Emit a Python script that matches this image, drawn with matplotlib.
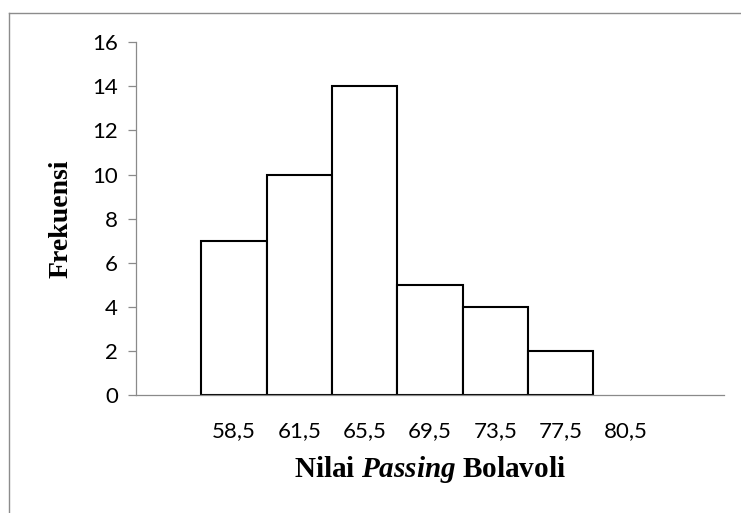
import matplotlib
matplotlib.use('Agg')
from matplotlib import pyplot as plt
from matplotlib.lines import Line2D
import numpy as np

plt.rcParams['mathtext.fontset'] = 'custom'
plt.rcParams['mathtext.rm'] = 'Liberation Serif:bold'
plt.rcParams['mathtext.it'] = 'Liberation Serif:italic:bold'
plt.rcParams['mathtext.bf'] = 'Liberation Serif:bold'

# Data
kelas = ['58,5', '61,5', '65,5', '69,5', '73,5', '77,5', '80,5']
frekuensi = [7, 10, 14, 5, 4, 2, 0]
y_ticks = [0, 2, 4, 6, 8, 10, 12, 14, 16]

fig = plt.figure(figsize=(7.41, 5.13), dpi=100)
ax = fig.add_axes([0.1835, 0.230, 0.7935, 0.6875])

x = np.arange(len(kelas))
edges = ['black' if v > 0 else 'none' for v in frekuensi]
ax.bar(x, frekuensi, width=1.0, color='white', edgecolor=edges,
       linewidth=1.5, zorder=2)

ax.set_xlim(-1.5, 7.5)
ax.set_ylim(0, 16)
ax.set_yticks(y_ticks)
ax.set_xticks(x)
ax.set_xticklabels(kelas)

# Axis styling (Excel-like)
for side in ['top', 'right']:
    ax.spines[side].set_visible(False)
for side in ['left', 'bottom']:
    ax.spines[side].set_color('#8a8a8a')
    ax.spines[side].set_linewidth(0.9)
    ax.spines[side].set_zorder(3)
ax.tick_params(axis='y', direction='out', length=6, width=0.9,
               color='#8a8a8a', pad=7, labelsize=16)
ax.tick_params(axis='x', length=0, pad=19, labelsize=16)
for lab in ax.get_xticklabels() + ax.get_yticklabels():
    lab.set_fontfamily('Lato')

# Axis titles
ax.set_ylabel('Frekuensi', fontsize=20, fontweight='bold',
              fontfamily='Liberation Serif', labelpad=13)
ax.set_xlabel(r'Nilai $\mathit{Passing}$ Bolavoli', fontsize=21,
              fontweight='bold', fontfamily='Liberation Serif', labelpad=9)

# Outer frame (only top and left edges visible in reference)
fig.add_artist(Line2D([9.3 / 741, 1.0], [1 - 12.7 / 513, 1 - 12.7 / 513],
                      color='#8c8c8c', linewidth=1.0, transform=fig.transFigure))
fig.add_artist(Line2D([9.3 / 741, 9.3 / 741], [0.0, 1 - 12.7 / 513],
                      color='#8c8c8c', linewidth=1.0, transform=fig.transFigure))

fig.savefig('out.png', dpi=100)
